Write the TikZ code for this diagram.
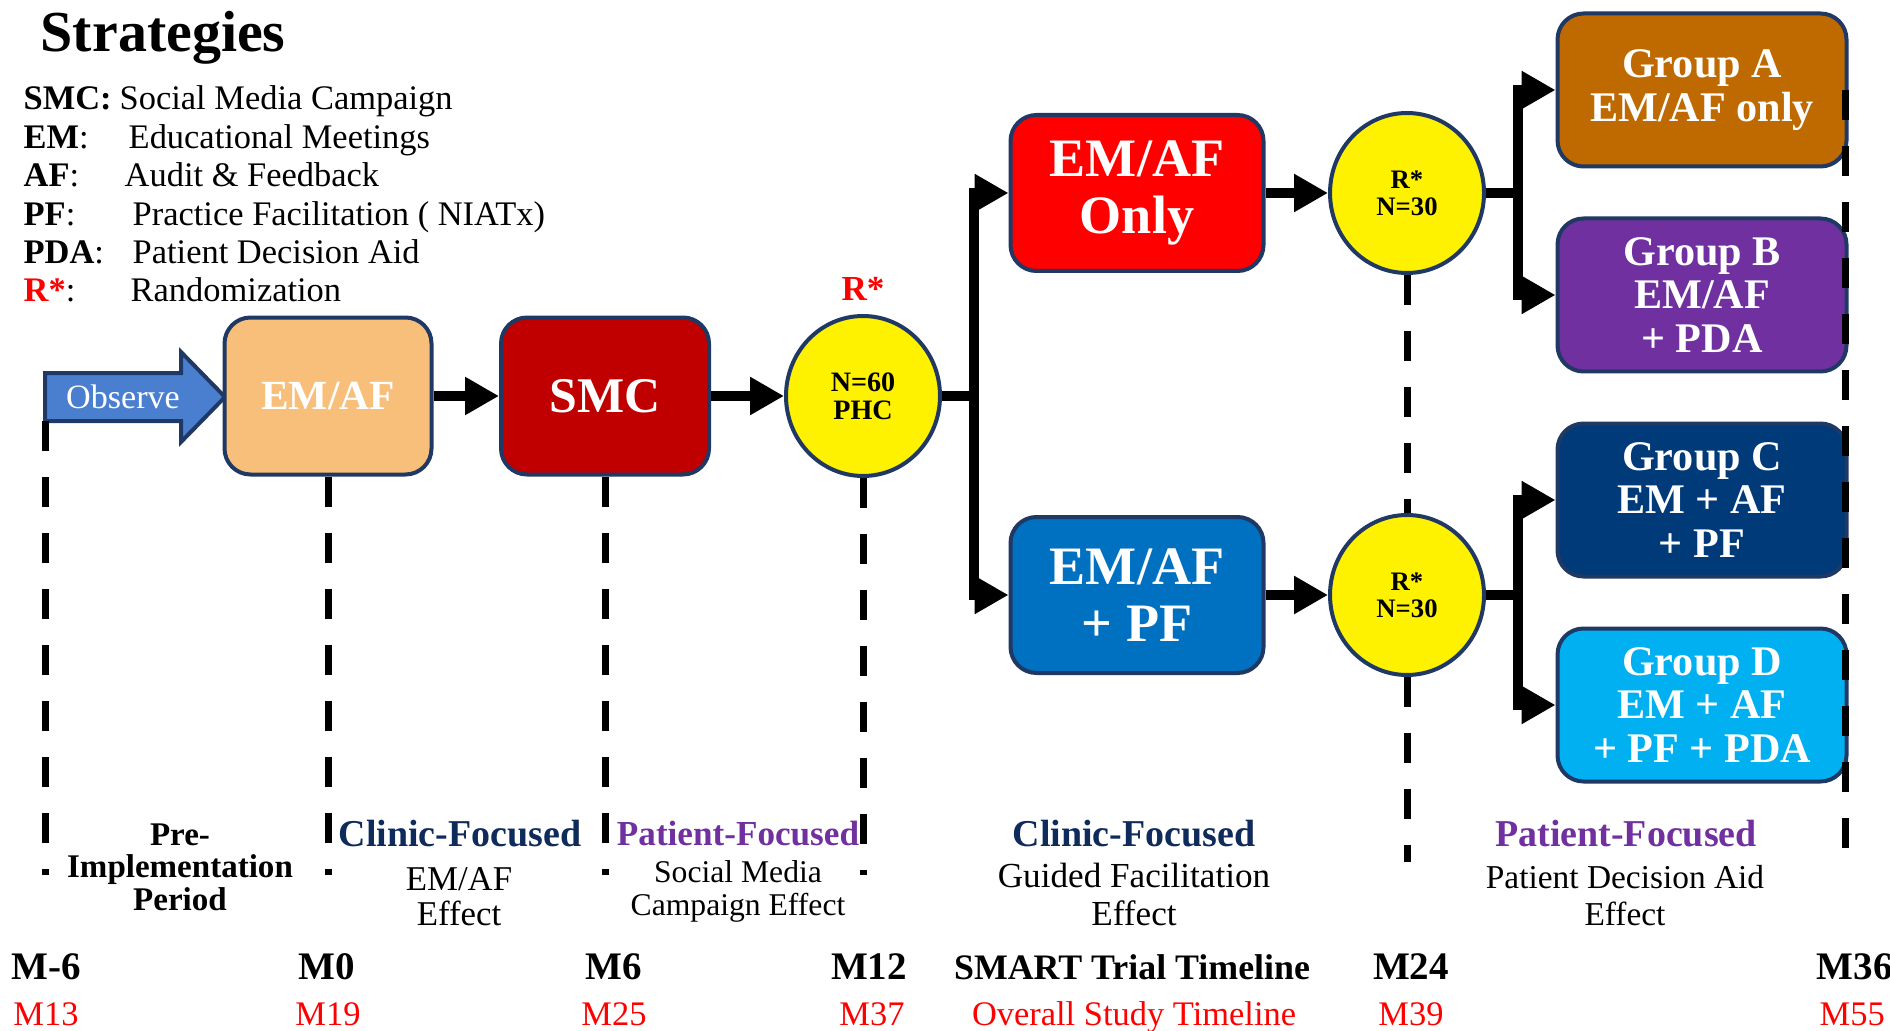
\documentclass[tikz,border=0pt]{standalone}
\usepackage{fontspec}
\setmainfont{Liberation Serif}
\usetikzlibrary{arrows.meta,shapes.geometric}

\definecolor{edgeblue}{HTML}{1F3864}
\definecolor{observeblue}{HTML}{4A7FCF}
\definecolor{peach}{HTML}{F8BF7A}
\definecolor{smcred}{HTML}{C00000}
\definecolor{onlyred}{HTML}{FF0000}
\definecolor{pfblue}{HTML}{0070C0}
\definecolor{grpA}{HTML}{BF6A00}
\definecolor{grpB}{HTML}{7030A0}
\definecolor{grpC}{HTML}{003A78}
\definecolor{grpD}{HTML}{00B0F0}
\definecolor{clinicnavy}{HTML}{0F2B5B}
\definecolor{patientpurple}{HTML}{7030A0}

\tikzset{
  stratbox/.style={draw=edgeblue, line width=0.4mm, rounded corners=2.6mm, text=white, align=center, inner sep=0pt},
  groupbox/.style={stratbox, minimum width=28.9mm, minimum height=15.3mm, font=\bfseries\fontsize{12}{12.4}\selectfont},
  randnode/.style={ellipse, draw=edgeblue, line width=0.4mm, fill=yellow, align=center, inner sep=0pt, minimum width=15.4mm, minimum height=16mm},
  flow/.style={line width=1mm, -{Triangle[length=3.4mm,width=3.6mm]}},
  forkline/.style={line width=1mm},
  period/.style={line width=0.7mm, dash pattern=on 3mm off 2.6mm},
  txt/.style={inner sep=0pt, anchor=base},
  legtxt/.style={txt, anchor=base west, font=\fontsize{9.8}{11}\selectfont},
  mblack/.style={txt, font=\bfseries\fontsize{11.1}{12}\selectfont},
  mred/.style={txt, text=red, font=\fontsize{9.8}{11}\selectfont},
  subtxt/.style={txt, font=\fontsize{9.6}{11}\selectfont},
}

\begin{document}
\begin{tikzpicture}[x=0.1mm, y=-0.1mm]
\useasboundingbox (0,0) rectangle (1890,1030);
\clip (0,0) rectangle (1890,1030);

% legend
\node[txt, anchor=base west, font=\bfseries\fontsize{16.5}{18}\selectfont] (title) at (40,52) {Strategies};
\node[legtxt] (lsmc) at (23,110) {\textbf{SMC:}};
\node[legtxt] (dsmc) at (119,110) {Social Media Campaign};
\node[legtxt] (lem) at (23,149) {\textbf{EM}:};
\node[legtxt] (dem) at (128,149) {Educational Meetings};
\node[legtxt] (laf) at (23,187) {\textbf{AF}:};
\node[legtxt] (daf) at (124,187) {Audit \& Feedback};
\node[legtxt] (lpf) at (23,226) {\textbf{PF}:};
\node[legtxt] (dpf) at (132,226) {Practice Facilitation ( NIATx)};
\node[legtxt] (lpda) at (23,264) {\textbf{PDA}:};
\node[legtxt] (dpda) at (132,264) {Patient Decision Aid};
\node[legtxt] (lr) at (23,302) {\textbf{\color{red}R*}:};
\node[legtxt] (dr) at (130,302) {Randomization};

% first phase
\draw[draw=edgeblue, fill=observeblue, line width=0.4mm] (45,373) -- (181,373) -- (181,352) -- (225,397) -- (181,442) -- (181,421) -- (45,421) -- cycle;
\node[text=white, inner sep=0pt, font=\fontsize{9.7}{11}\selectfont] (obs) at (123,397) {Observe};
\coordinate (obsfoot) at (45,421);
\node[stratbox, fill=peach, minimum width=20.7mm, minimum height=15.7mm, font=\bfseries\fontsize{11.8}{13}\selectfont] (emaf) at (328,396) {EM/AF};
\node[stratbox, fill=smcred, minimum width=20.8mm, minimum height=15.7mm, font=\bfseries\fontsize{14.2}{16}\selectfont] (smc) at (605,396) {SMC};
\node[randnode, font=\bfseries\fontsize{8}{8}\selectfont] (rand) at (863,396) {N=60\\PHC};
\node[inner sep=0pt, text=red, font=\bfseries\fontsize{10}{12}\selectfont] (rstar) at (863,289) {R*};
\draw[flow] (emaf) -- (smc);
\draw[flow] (smc) -- (rand);

% second phase
\node[stratbox, fill=onlyred, minimum width=25.3mm, minimum height=15.6mm, font=\bfseries\fontsize{15.4}{16.2}\selectfont] (emonly) at (1137,193) {EM/AF\\Only};
\node[stratbox, fill=pfblue, minimum width=25.3mm, minimum height=15.6mm, font=\bfseries\fontsize{15.4}{16.2}\selectfont] (empf) at (1137,595) {EM/AF\\+ PF};
\coordinate (fork1) at (974,396);
\draw[forkline] (rand.east) -- (fork1);
\draw[flow] (fork1) |- (emonly.west);
\draw[flow] (fork1) |- (empf.west);
\node[randnode, font=\bfseries\fontsize{7.6}{7.7}\selectfont] (r1) at (1407,193) {R*\\N=30};
\node[randnode, font=\bfseries\fontsize{7.6}{7.7}\selectfont] (r2) at (1407,595) {R*\\N=30};
\draw[flow] (emonly) -- (r1);
\draw[flow] (empf) -- (r2);

% groups
\node[groupbox, fill=grpA] (ga) at (1702,90) {Group A\\EM/AF only};
\node[groupbox, fill=grpB] (gb) at (1702,295) {Group B\\EM/AF\\+ PDA};
\node[groupbox, fill=grpC] (gc) at (1702,500) {Group C\\EM + AF\\+ PF};
\node[groupbox, fill=grpD] (gd) at (1702,705) {Group D\\EM + AF\\+ PF + PDA};
\coordinate (fork2) at (1518,193);
\coordinate (fork3) at (1518,595);
\draw[forkline] (r1.east) -- (fork2);
\draw[flow] (fork2) |- (ga.west);
\draw[flow] (fork2) |- (gb.west);
\draw[forkline] (r2.east) -- (fork3);
\draw[flow] (fork3) |- (gc.west);
\draw[flow] (fork3) |- (gd.west);

% period lines
\coordinate (tm6) at (45,875);
\coordinate (t0) at (328,875);
\coordinate (t6) at (605,875);
\coordinate (t12) at (863,875);
\coordinate (t24) at (1407,862);
\coordinate (t36top) at (1845,90);
\coordinate (t36) at (1845,848);
\draw[period] (obsfoot) -- (tm6);
\draw[period] (emaf.south) -- (t0);
\draw[period] (smc.south) -- (t6);
\draw[period] (rand.south) -- (t12);
\draw[period] (r1.south) -- (r2.north);
\draw[period] (r2.south) -- (t24);
\draw[period] (t36top) -- (t36);

% period labels
\node[txt, font=\bfseries\fontsize{9.4}{10}\selectfont] (pre1) at (180,845) {Pre-};
\node[txt, font=\bfseries\fontsize{9.4}{10}\selectfont] (pre2) at (180,877) {Implementation};
\node[txt, font=\bfseries\fontsize{9.4}{10}\selectfont] (pre3) at (180,910) {Period};
\node[txt, text=clinicnavy, font=\bfseries\fontsize{10.8}{12}\selectfont] (cf1) at (460,846) {Clinic-Focused};
\node[subtxt, font=\fontsize{9.9}{11}\selectfont] (cf1a) at (459,890) {EM/AF};
\node[subtxt, font=\fontsize{9.9}{11}\selectfont] (cf1b) at (459,925) {Effect};
\node[txt, text=patientpurple, font=\bfseries\fontsize{10}{12}\selectfont] (pf1) at (738,845) {Patient-Focused};
\node[subtxt, font=\fontsize{9}{10}\selectfont] (pf1a) at (738,882) {Social Media};
\node[subtxt, font=\fontsize{9}{10}\selectfont] (pf1b) at (738,915) {Campaign Effect};
\node[txt, text=clinicnavy, font=\bfseries\fontsize{10.8}{12}\selectfont] (cf2) at (1134,846) {Clinic-Focused};
\node[subtxt, font=\fontsize{10}{11}\selectfont] (cf2a) at (1134,887) {Guided Facilitation};
\node[subtxt, font=\fontsize{10}{11}\selectfont] (cf2b) at (1134,925) {Effect};
\node[txt, text=patientpurple, font=\bfseries\fontsize{10.8}{12}\selectfont] (pf2) at (1626,846) {Patient-Focused};
\node[subtxt, font=\fontsize{9.5}{11}\selectfont] (pf2a) at (1625,888) {Patient Decision Aid};
\node[subtxt, font=\fontsize{9.5}{11}\selectfont] (pf2b) at (1625,925) {Effect};

% timelines
\node[mblack] (mm6) at (46,979) {M-6};
\node[mblack] (m0) at (327,979) {M0};
\node[mblack] (m6) at (614,979) {M6};
\node[mblack] (m12) at (869,979) {M12};
\node[mblack, font=\bfseries\fontsize{10.2}{12}\selectfont] (smart) at (1132,979) {SMART Trial Timeline};
\node[mblack] (m24) at (1411,979) {M24};
\node[mblack, anchor=base west] (m36) at (1816,979) {M36};
\node[mred] (m13) at (46,1025) {M13};
\node[mred] (m19) at (328,1025) {M19};
\node[mred] (m25) at (614,1025) {M25};
\node[mred] (m37) at (872,1025) {M37};
\node[mred] (overall) at (1134,1025) {Overall Study Timeline};
\node[mred] (m39) at (1411,1025) {M39};
\node[mred, anchor=base west] (m55) at (1819,1025) {M55};
\end{tikzpicture}
\end{document}
